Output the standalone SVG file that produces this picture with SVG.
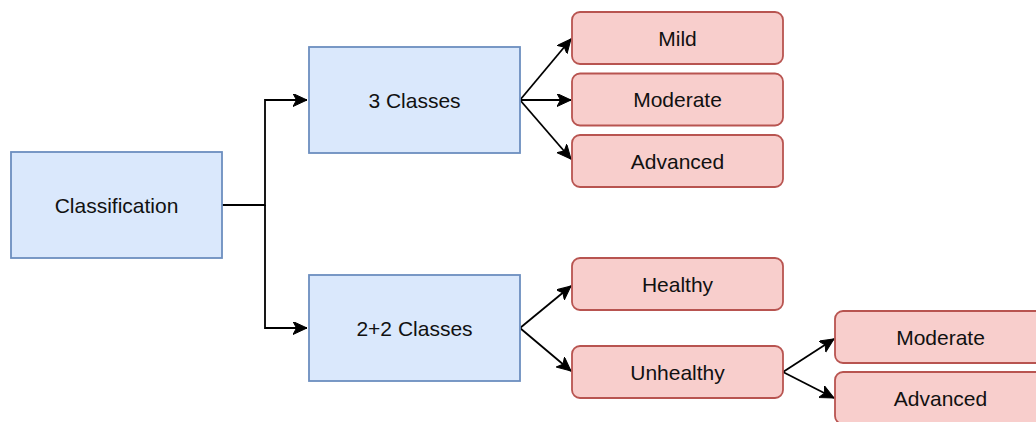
<svg xmlns="http://www.w3.org/2000/svg" width="1036" height="422" viewBox="0 0 1036 422">
<style>
.blue{fill:#dae8fc;stroke:#6c8ebf;stroke-width:1.8}
.red{fill:#f8cecc;stroke:#b85450;stroke-width:1.8}
.lbl{font-family:"Liberation Sans",Arial,sans-serif;font-size:21px;fill:#111;text-anchor:middle}
.edge{fill:none;stroke:#000;stroke-width:1.8}
</style>
<defs>
<marker id="arr" markerUnits="userSpaceOnUse" markerWidth="16" markerHeight="14" refX="14" refY="6.5" orient="auto">
<path d="M0,0 L14,6.5 L0,13 L3.5,6.5 Z" fill="#000" stroke="#000" stroke-width="1"/>
</marker>
</defs>
<rect width="1036" height="422" fill="#fff"/>
<g id="connectors">
<path class="edge" d="M222,205 H265 V100 H307" marker-end="url(#arr)"/>
<path class="edge" d="M265,205 V328 H307" marker-end="url(#arr)"/>
<path class="edge" d="M520,100 L571,39" marker-end="url(#arr)"/>
<path class="edge" d="M520,100 L571,100" marker-end="url(#arr)"/>
<path class="edge" d="M520,100 L571,159" marker-end="url(#arr)"/>
<path class="edge" d="M520,328 L571,286" marker-end="url(#arr)"/>
<path class="edge" d="M520,328 L571,371" marker-end="url(#arr)"/>
<path class="edge" d="M783,372 L834,339" marker-end="url(#arr)"/>
<path class="edge" d="M783,372 L834,398" marker-end="url(#arr)"/>
</g>
<g id="classification">
<rect class="blue" x="11" y="152" width="211" height="106"/>
<text class="lbl" x="116.5" y="212.5">Classification</text>
</g>
<g id="three-classes">
<rect class="blue" x="309" y="47" width="211" height="106"/>
<text class="lbl" x="414.5" y="107.5">3 Classes</text>
</g>
<g id="two-two-classes">
<rect class="blue" x="309" y="275" width="211" height="106"/>
<text class="lbl" x="414.5" y="335.5">2+2 Classes</text>
</g>
<g id="mild">
<rect class="red" x="572" y="12" width="211" height="52" rx="8"/>
<text class="lbl" x="677.5" y="45.5">Mild</text>
</g>
<g id="moderate">
<rect class="red" x="572" y="73.5" width="211" height="52" rx="8"/>
<text class="lbl" x="677.5" y="107">Moderate</text>
</g>
<g id="advanced">
<rect class="red" x="572" y="135" width="211" height="52" rx="8"/>
<text class="lbl" x="677.5" y="168.5">Advanced</text>
</g>
<g id="healthy">
<rect class="red" x="572" y="258" width="211" height="52" rx="8"/>
<text class="lbl" x="677.5" y="291.5">Healthy</text>
</g>
<g id="unhealthy">
<rect class="red" x="572" y="346" width="211" height="52" rx="8"/>
<text class="lbl" x="677.5" y="379.5">Unhealthy</text>
</g>
<g id="moderate-2">
<rect class="red" x="835" y="311" width="211" height="52" rx="8"/>
<text class="lbl" x="940.5" y="344.5">Moderate</text>
</g>
<g id="advanced-2">
<rect class="red" x="835" y="372" width="211" height="52" rx="8"/>
<text class="lbl" x="940.5" y="405.5">Advanced</text>
</g>
</svg>
